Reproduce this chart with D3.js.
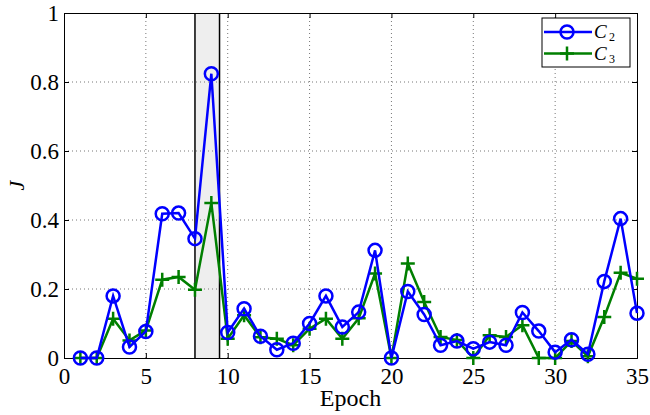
<!DOCTYPE html>
<html><head><meta charset="utf-8">
<script src="https://cdn.jsdelivr.net/npm/d3@7"></script>
<style>body{margin:0;background:#fff}svg{display:block}</style>
</head><body><div id="c"></div>
<script>
const epochs = [1,2,3,4,5,6,7,8,9,10,11,12,13,14,15,16,17,18,19,20,21,22,23,24,25,26,27,28,29,30,31,32,33,34,35];
const c2 = [0,0,0.18,0.032,0.077,0.418,0.42,0.346,0.824,0.074,0.143,0.063,0.024,0.043,0.10,0.18,0.09,0.133,0.312,0,0.193,0.126,0.037,0.049,0.027,0.046,0.037,0.132,0.078,0.017,0.053,0.011,0.222,0.404,0.13];
const c3 = [0,0,0.114,0.051,0.08,0.227,0.235,0.198,0.449,0.056,0.124,0.06,0.056,0.037,0.085,0.114,0.056,0.115,0.245,0,0.274,0.162,0.061,0.052,0,0.066,0.061,0.095,0,0,0.049,0.005,0.119,0.247,0.23];
const xTicks = [0,5,10,15,20,25,30,35];
const yTicks = [0,0.2,0.4,0.6,0.8,1];
const shade = [8,9.5];
const seriesNames = ["2","3"];

const W=650,H=415, m={l:64,r:13,t:13,b:57};
const svg=d3.select("#c").append("svg").attr("width",W).attr("height",H);
const x=d3.scaleLinear().domain([0,35]).range([m.l,W-m.r]);
const y=d3.scaleLinear().domain([0,1]).range([H-m.b,m.t]);
const font="'Liberation Serif','Times New Roman',serif";

// shaded region
svg.append("rect").attr("x",x(shade[0])).attr("y",y(1)).attr("width",x(shade[1])-x(shade[0])).attr("height",y(0)-y(1)).attr("fill","#eeeeee");

// grid
const g=svg.append("g");
xTicks.slice(1,-1).forEach(t=>g.append("line").attr("x1",x(t)).attr("x2",x(t)).attr("y1",y(0)).attr("y2",y(1)).attr("stroke","#777").attr("stroke-width",1).attr("stroke-dasharray","1,3"));
yTicks.slice(1,-1).forEach(t=>g.append("line").attr("x1",x(0)).attr("x2",x(35)).attr("y1",y(t)).attr("y2",y(t)).attr("stroke","#777").attr("stroke-width",1).attr("stroke-dasharray","1,3"));

shade.forEach(s=>svg.append("line").attr("x1",x(s)).attr("x2",x(s)).attr("y1",y(0)).attr("y2",y(1)).attr("stroke","#000").attr("stroke-width",1.5));

// axes
const ax=svg.append("g").attr("transform",`translate(0,${y(0)})`).call(d3.axisBottom(x).tickValues(xTicks).tickSize(-5).tickPadding(10).tickFormat(d3.format("d")));
const ay=svg.append("g").attr("transform",`translate(${x(0)},0)`).call(d3.axisLeft(y).tickValues(yTicks).tickSize(-5).tickPadding(5).tickFormat(d=>d===0?"0":d===1?"1":d3.format(".1f")(d)));
const axT=svg.append("g").attr("transform",`translate(0,${y(1)})`).call(d3.axisTop(x).tickValues(xTicks).tickSize(-5).tickFormat(""));
const ayR=svg.append("g").attr("transform",`translate(${x(35)},0)`).call(d3.axisRight(y).tickValues(yTicks).tickSize(-5).tickFormat(""));
[ax,ay,axT,ayR].forEach(a=>{a.attr("font-family",font).attr("font-size",23);a.select(".domain").attr("stroke","#000").attr("stroke-width",1);a.selectAll("text").attr("font-family",font).attr("font-size",23).attr("fill","#000");});

// lines
const line=d3.line().x((d,i)=>x(epochs[i])).y(d=>y(d));
svg.append("path").datum(c3).attr("d",line).attr("fill","none").attr("stroke","#007f00").attr("stroke-width",2.5);
svg.selectAll(".p3").data(c3).enter().append("path").attr("d",(d,i)=>`M${x(epochs[i])-7},${y(d)}h14M${x(epochs[i])},${y(d)-7}v14`).attr("stroke","#007f00").attr("stroke-width",2.5);
svg.append("path").datum(c2).attr("d",line).attr("fill","none").attr("stroke","#0000ff").attr("stroke-width",2.5);
svg.selectAll(".p2").data(c2).enter().append("circle").attr("cx",(d,i)=>x(epochs[i])).attr("cy",d=>y(d)).attr("r",6.5).attr("fill","none").attr("stroke","#0000ff").attr("stroke-width",2.5);

// labels
svg.append("text").attr("x",(x(0)+x(35))/2).attr("y",406).attr("text-anchor","middle").attr("font-family",font).attr("font-size",24).text("Epoch");
svg.append("text").attr("transform",`translate(24,${(y(0)+y(1))/2}) rotate(-90)`).attr("text-anchor","middle").attr("font-family",font).attr("font-style","italic").attr("font-size",22).text("J");

// legend
const lg=svg.append("g").attr("transform","translate(542,18)");
lg.append("rect").attr("width",88).attr("height",49).attr("fill","#fff").attr("stroke","#000").attr("stroke-width",1);
[["#0000ff",0],["#007f00",1]].forEach(([col,i])=>{
  const yy=14+i*21.5;
  lg.append("line").attr("x1",2).attr("x2",50).attr("y1",yy).attr("y2",yy).attr("stroke",col).attr("stroke-width",2.5);
  if(i===0) lg.append("circle").attr("cx",25).attr("cy",yy).attr("r",6.5).attr("fill","none").attr("stroke",col).attr("stroke-width",2.5);
  else lg.append("path").attr("d",`M18,${yy}h14M25,${yy-7}v14`).attr("stroke",col).attr("stroke-width",2.5);
  lg.append("text").attr("x",52).attr("y",yy+6).attr("font-family",font).attr("font-style","italic").attr("font-size",19).text("C");
  lg.append("text").attr("x",67).attr("y",yy+9).attr("font-family",font).attr("font-size",12).text(seriesNames[i]);
});
</script></body></html>
